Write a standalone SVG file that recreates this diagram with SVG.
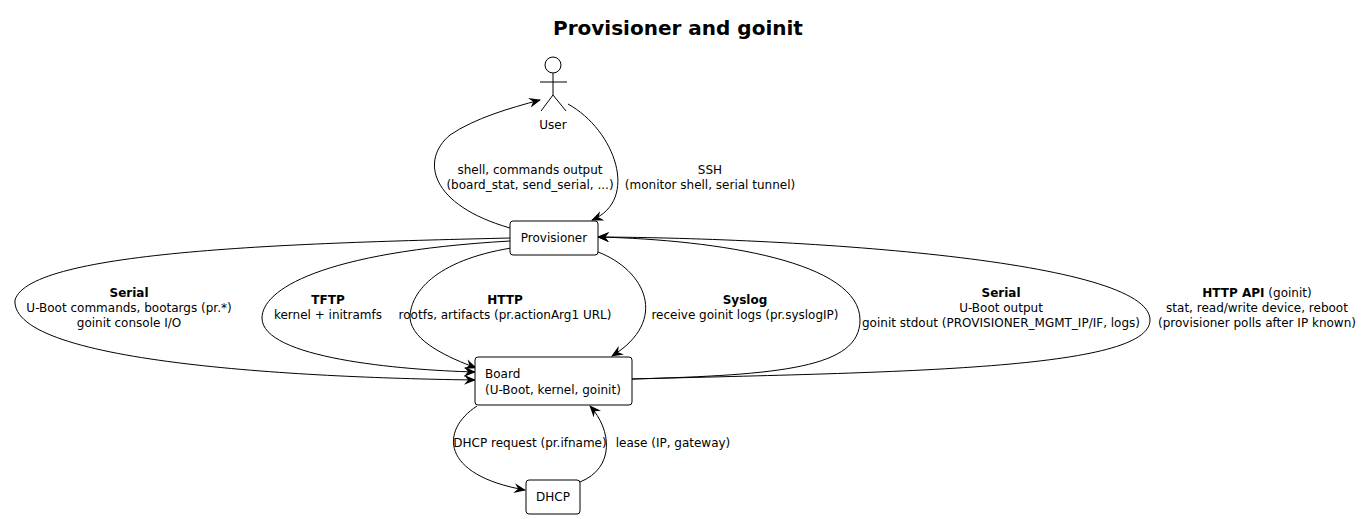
<svg xmlns="http://www.w3.org/2000/svg" width="1364" height="519" viewBox="0 0 1364 519">
<style>
text{font-family:"DejaVu Sans",sans-serif;font-size:12px;fill:#000}
.t{font-size:20px;font-weight:bold}
.b{font-weight:bold}
.n{fill:#fff;stroke:#000;stroke-width:1}
.e{fill:none;stroke:#000;stroke-width:1}
</style>
<defs><marker id="a" viewBox="0 0 12 10" refX="11" refY="5" markerWidth="12" markerHeight="10" orient="auto" markerUnits="userSpaceOnUse"><path d="M0,0 L12,5 L0,10 L4,5 Z" fill="#000"/></marker></defs>
<rect width="1364" height="519" fill="#fff"/>
<text class="t" x="678" y="35" text-anchor="middle">Provisioner and goinit</text>
<g id="connectors">
<path class="e" marker-end="url(#a)" d="M510,228 C430,205 420,160 450,135 C475,118 510,108 540,100"/>
<path class="e" marker-end="url(#a)" d="M568,104 C615,130 640,200 592,220"/>
<path class="e" marker-end="url(#a)" d="M510,238 C300,243 30,250 15,300 C10,365 320,378 475,380"/>
<path class="e" marker-end="url(#a)" d="M510,241 C320,252 262,290 262,318 C262,358 400,370 475,372"/>
<path class="e" marker-end="url(#a)" d="M518,247 C440,258 410,290 410,318 C412,342 450,358 476,368"/>
<path class="e" marker-end="url(#a)" d="M598,252 C645,270 670,320 612,356"/>
<path class="e" marker-end="url(#a)" d="M632,379 C780,375 860,368 860,320 C860,262 720,240 598,237"/>
<path class="e" marker-end="url(#a)" d="M632,379 C900,372 1150,370 1150,320 C1150,260 800,238 598,237"/>
<path class="e" marker-end="url(#a)" d="M477,406 C440,430 440,475 525,490"/>
<path class="e" marker-end="url(#a)" d="M580,482 C615,468 612,430 590,406"/>
</g>
<g id="User">
<circle class="n" cx="553" cy="65" r="8"/>
<path class="e" d="M553,73 V95 M540,82 H567 M541,111 L553,95 L566,111"/>
<text x="553" y="129" text-anchor="middle">User</text>
</g>
<g id="Provisioner"><rect class="n" x="510" y="221" width="88" height="34" rx="3"/><text x="554" y="242" text-anchor="middle">Provisioner</text></g>
<g id="Board"><rect class="n" x="475" y="357" width="157" height="48" rx="3"/><text x="485" y="378">Board</text><text x="485" y="394">(U-Boot, kernel, goinit)</text></g>
<g id="DHCP"><rect class="n" x="526" y="480" width="54" height="34" rx="3"/><text x="553" y="501" text-anchor="middle">DHCP</text></g>
<g id="labels" text-anchor="middle">
<text x="530" y="174">shell, commands output</text><text x="530" y="189">(board_stat, send_serial, ...)</text>
<text x="710" y="174">SSH</text><text x="710" y="189">(monitor shell, serial tunnel)</text>
<text x="129" y="297" class="b">Serial</text><text x="129" y="312">U-Boot commands, bootargs (pr.*)</text><text x="129" y="327">goinit console I/O</text>
<text x="328" y="304" class="b">TFTP</text><text x="328" y="319">kernel + initramfs</text>
<text x="505" y="304" class="b">HTTP</text><text x="505" y="319">rootfs, artifacts (pr.actionArg1 URL)</text>
<text x="745" y="304" class="b">Syslog</text><text x="745" y="319">receive goinit logs (pr.syslogIP)</text>
<text x="1001" y="297" class="b">Serial</text><text x="1001" y="312">U-Boot output</text><text x="1001" y="327">goinit stdout (PROVISIONER_MGMT_IP/IF, logs)</text>
<text x="1257" y="297"><tspan class="b">HTTP API</tspan> (goinit)</text><text x="1257" y="312">stat, read/write device, reboot</text><text x="1257" y="327">(provisioner polls after IP known)</text>
<text x="530" y="447">DHCP request (pr.ifname)</text>
<text x="673" y="447">lease (IP, gateway)</text>
</g>
</svg>
